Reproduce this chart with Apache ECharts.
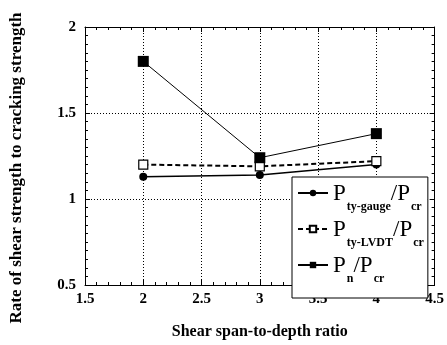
<!DOCTYPE html>
<html><head><meta charset="utf-8">
<script src="https://cdn.jsdelivr.net/npm/echarts@6/dist/echarts.min.js"></script>
<style>html,body{margin:0;padding:0;background:#fff}#c{width:447px;height:345px}</style>
</head><body><div id="c"></div>
<script>
const ratios = [2, 3, 4];
const gauge = [1.13, 1.14, 1.20];
const lvdt = [1.20, 1.19, 1.22];
const pn = [1.80, 1.24, 1.38];
const xTicks = [1.5, 2, 2.5, 3, 3.5, 4, 4.5];
const yTicks = [0.5, 1, 1.5, 2];

const F = '"Liberation Serif", "DejaVu Serif", serif';
const pair = (xs, ys) => xs.map((x, i) => [x, ys[i]]);
const rich = {
  P: { fontFamily: F, fontSize: 23, lineHeight: 22, verticalAlign: 'top', color: '#000' },
  s: { fontFamily: F, fontSize: 12, fontWeight: 'bold', lineHeight: 12, padding: [19, 0, 0, 1], verticalAlign: 'top', color: '#000' }
};
const labels = {
  'gauge': '{P|P}{s|ty-gauge}{P|/P}{s|cr}',
  'lvdt': '{P|P}{s|ty-LVDT}{P|/P}{s|cr}',
  'pn': '{P|P}{s|n}{P|/P}{s|cr}'
};
const axBase = (pos, showLabel) => ({
  type: 'value', position: pos,
  axisLine: { show: true, onZero: false, lineStyle: { color: '#000', width: 1 } },
  axisTick: { show: true, inside: true, length: 5, lineStyle: { color: '#000', width: 1 } },
  minorTick: { show: true, splitNumber: 5, length: 3, lineStyle: { color: '#000', width: 1 } },
  axisLabel: { show: showLabel, color: '#000', fontFamily: F, fontSize: 15, fontWeight: 'bold' },
  splitLine: { show: false }
});
const x1 = Object.assign(axBase('bottom', true), {
  min: 1.5, max: 4.5, interval: 0.5,
  name: 'Shear span-to-depth ratio', nameLocation: 'middle', nameGap: 39,
  nameTextStyle: { color: '#000', fontFamily: F, fontSize: 16, fontWeight: 'bold' },
  splitLine: { show: true, lineStyle: { color: '#000', type: [1, 2], width: 1 } }
});
x1.axisLabel.margin = 7;
x1.axisLabel.formatter = v => xTicks.includes(v) ? String(v) : '';
const x2 = Object.assign(axBase('top', false), { min: 1.5, max: 4.5, interval: 0.5 });
const y1 = Object.assign(axBase('left', true), {
  min: 0.5, max: 2, interval: 0.5,
  name: 'Rate of shear strength to cracking strength', nameLocation: 'middle', nameGap: 60,
  nameTextStyle: { color: '#000', fontFamily: F, fontSize: 17, fontWeight: 'bold', padding: [0, 24, 0, 0] },
  splitLine: { show: true, lineStyle: { color: '#000', type: [1, 2], width: 1 } }
});
y1.minorTick.splitNumber = 10;
y1.axisLabel.margin = 9;
y1.axisLabel.formatter = v => yTicks.includes(v) ? String(v) : '';
const y2 = Object.assign(axBase('right', false), { min: 0.5, max: 2, interval: 0.5 });
y2.minorTick.splitNumber = 10;

const chart = echarts.init(document.getElementById('c'), null, { renderer: 'canvas' });
chart.setOption({
  animation: false,
  backgroundColor: '#fff',
  grid: { left: 84, right: 9, top: 27, bottom: 59, containLabel: false },
  xAxis: [x1, x2],
  yAxis: [y1, y2],
  legend: {
    orient: 'vertical', left: 292, top: 177,
    padding: [5, 4, 13, 5], itemGap: 5, itemWidth: 30, itemHeight: 8,
    backgroundColor: '#fff', borderColor: '#000', borderWidth: 1,
    data: ['gauge', 'lvdt', 'pn'],
    formatter: n => labels[n],
    textStyle: { rich: rich, color: '#000' },
    z: 10
  },
  series: [
    { name: 'gauge', type: 'line', data: pair(ratios, gauge), symbol: 'circle', symbolSize: 8,
      lineStyle: { color: '#000', width: 1.5 }, itemStyle: { color: '#000' }, z: 3 },
    { name: 'lvdt', type: 'line', data: pair(ratios, lvdt), symbol: 'rect', symbolSize: 9,
      lineStyle: { color: '#000', width: 2, type: [5, 3] }, itemStyle: { color: '#fff', borderColor: '#000', borderWidth: 1.2 }, z: 4 },
    { name: 'pn', type: 'line', data: pair(ratios, pn), symbol: 'rect', symbolSize: 11,
      lineStyle: { color: '#000', width: 1 }, itemStyle: { color: '#000' }, z: 5 }
  ]
});
</script></body></html>
